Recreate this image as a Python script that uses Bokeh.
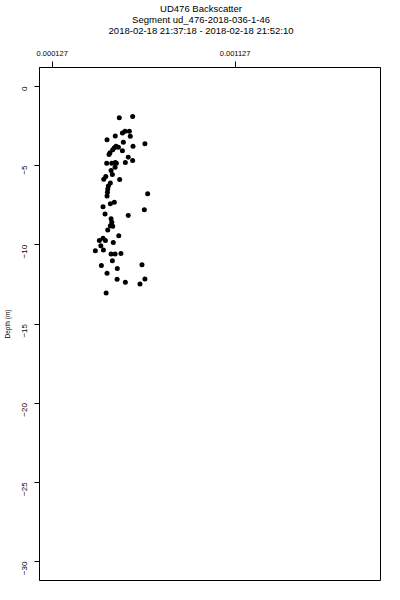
import math
from bokeh.plotting import figure
from bokeh.layouts import column
from bokeh.models import Range1d, FixedTicker, PrintfTickFormatter, ColumnDataSource
from bokeh.core.properties import value
from bokeh.embed import file_html
from bokeh.resources import INLINE

backscatter = [0.000494, 0.000567, 0.000511, 0.000525, 0.000549, 0.000554, 0.000472, 0.000427,
               0.000516, 0.000634, 0.000569, 0.000476, 0.000467, 0.000489, 0.000458, 0.000511,
               0.000443, 0.000438, 0.000543, 0.000567, 0.000425, 0.000453, 0.000472, 0.000478,
               0.000527, 0.000471, 0.000449, 0.000456, 0.000420, 0.000409, 0.000496, 0.000445,
               0.000434, 0.000431, 0.000429, 0.000427, 0.000649, 0.000467, 0.000445, 0.000405,
               0.000631, 0.000416, 0.000543, 0.000449, 0.000453, 0.000445, 0.000458, 0.000431,
               0.000491, 0.000405, 0.000385, 0.000418, 0.000461, 0.000393, 0.000363, 0.000407,
               0.000449, 0.000471, 0.000503, 0.000456, 0.000396, 0.000618, 0.000483, 0.000427,
               0.000482, 0.000527, 0.000634, 0.000607, 0.000422]
depth = [-1.98, -1.90, -2.93, -2.83, -2.83, -3.14, -3.12, -3.37,
         -3.52, -3.62, -3.77, -3.77, -3.87, -3.84, -4.00, -4.06,
         -4.19, -4.30, -4.47, -4.68, -4.85, -4.85, -4.80, -4.85,
         -4.80, -5.10, -5.31, -5.56, -5.69, -5.86, -5.88, -6.09,
         -6.28, -6.47, -6.68, -6.92, -6.78, -7.31, -7.41, -7.59,
         -7.78, -8.05, -8.15, -8.36, -8.58, -8.79, -8.83, -9.06,
         -9.42, -9.59, -9.73, -9.73, -9.86, -10.05, -10.37, -10.32,
         -10.58, -10.58, -10.54, -11.00, -11.31, -11.25, -11.49, -11.80,
         -12.18, -12.37, -12.16, -12.47, -13.04]
x_ticks = [0.000127, 0.001127]
y_ticks = [0, -5, -10, -15, -20, -25, -30]
title_lines = ["UD476 Backscatter",
               "Segment ud_476-2018-036-1-46",
               "2018-02-18 21:37:18 - 2018-02-18 21:52:10"]
y_label = "Depth (m)"

FONT = "Liberation Sans"
W = 392
FRAME_LEFT = 38
FRAME_RIGHT = 380
TITLE_H = 40
TITLE_CX = 200          # horizontal centre of the title block (page px)
TITLE_TOP = 7.5         # centre of first title line (px)
TITLE_STEP = 11         # line spacing (px)

# ---- title strip (pixel coordinate space, frame aligned with the plot frame) ----
tf = figure(width=W, height=TITLE_H, output_backend="svg", toolbar_location=None, title=None,
            x_axis_type=None, y_axis_type=None,
            x_range=Range1d(FRAME_LEFT, FRAME_RIGHT), y_range=Range1d(TITLE_H, 0),
            min_border_left=FRAME_LEFT, min_border_right=W - FRAME_RIGHT,
            min_border_top=0, min_border_bottom=0)
tf.outline_line_color = None
tf.background_fill_color = "white"
tf.border_fill_color = "white"
n = len(title_lines)
tf.text(x=[TITLE_CX] * n, y=[TITLE_TOP + TITLE_STEP * i for i in range(n)], text=title_lines,
        text_align="center", text_baseline="middle", text_font=value(FONT),
        text_font_size=value("9.5px"), text_color="black")

# ---- main plot ----
p = figure(width=W, height=592 - TITLE_H, output_backend="svg", toolbar_location=None,
           title=None, x_axis_location="above",
           x_range=Range1d(0.0000577, 0.001922), y_range=Range1d(-31.2, 1.2),
           min_border_left=FRAME_LEFT, min_border_right=W - FRAME_RIGHT, min_border_bottom=12,
           min_border_top=67 - TITLE_H)

src = ColumnDataSource(dict(x=backscatter, y=depth))
p.scatter("x", "y", source=src, marker="circle", size=5, fill_color="black", line_color=None)

p.xgrid.visible = False
p.ygrid.visible = False
p.outline_line_color = "black"
p.outline_line_width = 1
p.outline_line_alpha = 1
p.background_fill_color = "white"
p.border_fill_color = "white"

xa = p.xaxis[0]
xa.ticker = FixedTicker(ticks=x_ticks)
xa.formatter = PrintfTickFormatter(format="%.6f")
xa.major_tick_out = 6
xa.major_tick_in = 0
xa.minor_tick_out = 0
xa.minor_tick_in = 0
xa.major_label_standoff = 6
xa.major_label_text_font = FONT
xa.major_label_text_font_size = "7.5px"
xa.major_label_text_color = "black"
xa.axis_line_color = "black"
xa.major_tick_line_color = "black"

ya = p.yaxis[0]
ya.ticker = FixedTicker(ticks=y_ticks)
ya.major_tick_out = 5
ya.major_tick_in = 0
ya.minor_tick_out = 0
ya.minor_tick_in = 0
ya.major_label_orientation = math.pi / 2
ya.major_label_standoff = 10
ya.major_label_text_font = FONT
ya.major_label_text_font_size = "8px"
ya.major_label_text_color = "black"
ya.axis_line_color = "black"
ya.major_tick_line_color = "black"
ya.axis_label = y_label
ya.axis_label_text_font = FONT
ya.axis_label_text_font_size = "6.5px"
ya.axis_label_text_font_style = "normal"
ya.axis_label_text_color = "black"
ya.axis_label_standoff = 6

layout = column(tf, p, spacing=0)
open("out.html", "w").write(file_html(layout, INLINE))
